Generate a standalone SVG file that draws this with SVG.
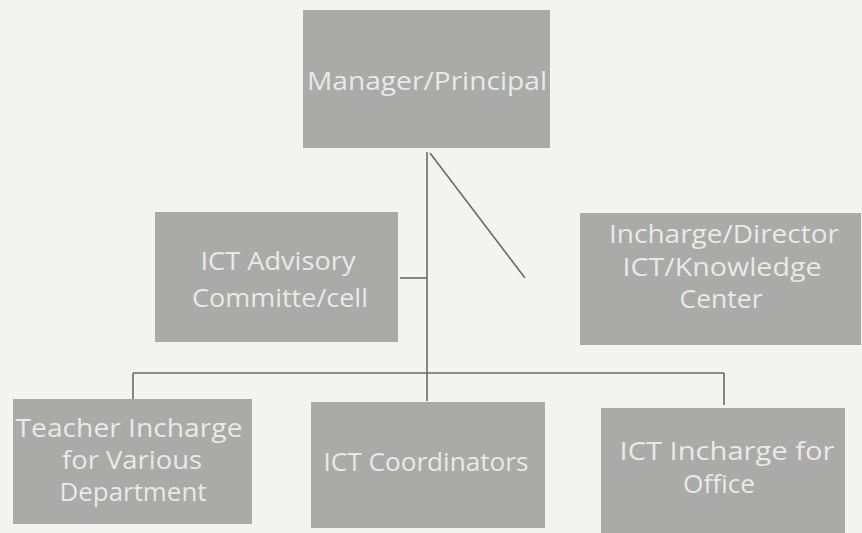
<svg xmlns="http://www.w3.org/2000/svg" width="862" height="533" viewBox="0 0 862 533">
<style>
.box{fill:#aaaaa8;}
.t{font-family:"Open Sans","Noto Sans",sans-serif;font-size:25px;fill:#e9e9e7;text-anchor:middle;}
.ln{stroke:#6a6a6a;stroke-width:1.6;fill:none;}
</style>
<rect width="862" height="533" fill="#f3f3f1"/>
<g id="connectors">
<line class="ln" x1="427" y1="152" x2="427" y2="401"/>
<line class="ln" x1="430" y1="153" x2="525" y2="278"/>
<line class="ln" x1="400" y1="278" x2="427" y2="278"/>
<line class="ln" x1="133" y1="373" x2="724" y2="373"/>
<line class="ln" x1="133" y1="373" x2="133" y2="399"/>
<line class="ln" x1="724" y1="373" x2="724" y2="405"/>
</g>
<g id="manager">
<rect class="box" x="303" y="10" width="247" height="138"/>
<text class="t" x="427" y="90" textLength="240" lengthAdjust="spacingAndGlyphs">Manager/Principal</text>
</g>
<g id="advisory">
<rect class="box" x="155" y="212" width="243" height="130"/>
<text class="t" x="278" y="270" textLength="155" lengthAdjust="spacingAndGlyphs">ICT Advisory</text>
<text class="t" x="280" y="307" textLength="176" lengthAdjust="spacingAndGlyphs">Committe/cell</text>
</g>
<g id="director">
<rect class="box" x="580" y="213" width="281" height="132"/>
<text class="t" x="724" y="243" textLength="230" lengthAdjust="spacingAndGlyphs">Incharge/Director</text>
<text class="t" x="722" y="276" textLength="199" lengthAdjust="spacingAndGlyphs">ICT/Knowledge</text>
<text class="t" x="721" y="308" textLength="83" lengthAdjust="spacingAndGlyphs">Center</text>
</g>
<g id="teacher">
<rect class="box" x="13" y="399" width="239" height="125"/>
<text class="t" x="129" y="437" textLength="227" lengthAdjust="spacingAndGlyphs">Teacher Incharge</text>
<text class="t" x="132" y="469" textLength="140" lengthAdjust="spacingAndGlyphs">for Various</text>
<text class="t" x="133" y="501" textLength="147" lengthAdjust="spacingAndGlyphs">Department</text>
</g>
<g id="coordinators">
<rect class="box" x="311" y="402" width="234" height="126"/>
<text class="t" x="426" y="471" textLength="205" lengthAdjust="spacingAndGlyphs">ICT Coordinators</text>
</g>
<g id="office">
<rect class="box" x="601" y="408" width="244" height="125"/>
<text class="t" x="727" y="460" textLength="215" lengthAdjust="spacingAndGlyphs">ICT Incharge for</text>
<text class="t" x="719" y="493" textLength="72" lengthAdjust="spacingAndGlyphs">Office</text>
</g>
</svg>
